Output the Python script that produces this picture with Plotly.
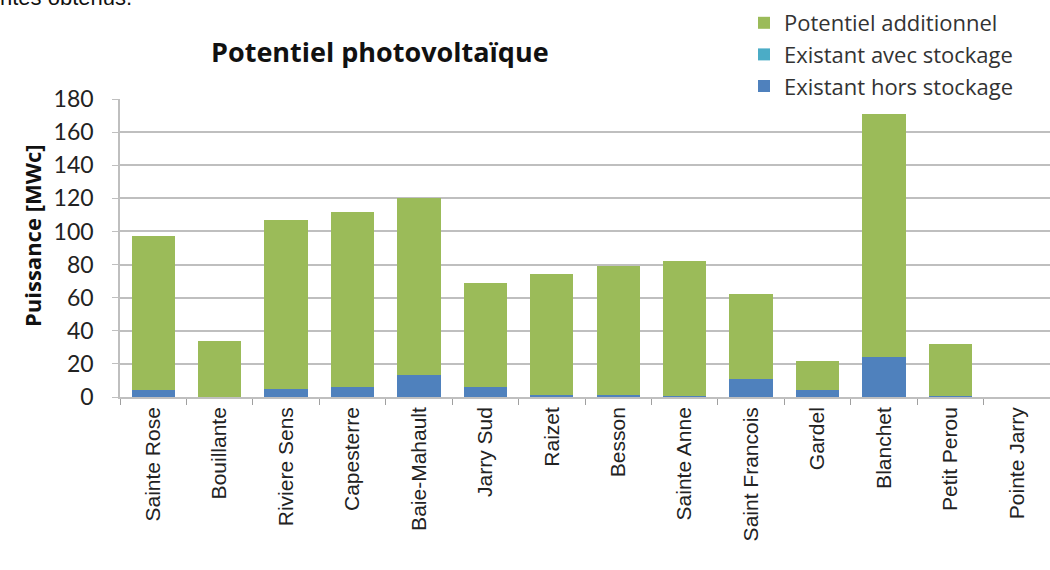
import plotly.graph_objects as go

# Postes sources et puissances photovoltaïques (MWc)
postes = ["Sainte Rose", "Bouillante", "Riviere Sens", "Capesterre", "Baie-Mahault",
          "Jarry Sud", "Raizet", "Besson", "Sainte Anne", "Saint Francois",
          "Gardel", "Blanchet", "Petit Perou", "Pointe Jarry"]
existant_hors_stockage = [4, 0, 5, 6, 13, 6, 1, 1, 0.5, 11, 4, 24, 0.5, 0]
existant_avec_stockage = [0, 0, 0, 0, 0, 0, 0, 0, 0, 0, 0, 0, 0, 0]
potentiel_additionnel = [93, 34, 102, 106, 107, 63, 73, 78, 81.5, 51, 18, 147, 31.5, 0]
y_ticks = [0, 20, 40, 60, 80, 100, 120, 140, 160, 180]

W, H = 1050, 570
ML, MR, MT, MB = 120, 0, 99, 173

fig = go.Figure()
fig.add_bar(x=postes, y=existant_hors_stockage, name="Existant hors stockage",
            marker=dict(color="#4F81BD", line_width=0))
fig.add_bar(x=postes, y=existant_avec_stockage, name="Existant avec stockage",
            marker=dict(color="#4BACC6", line_width=0))
fig.add_bar(x=postes, y=potentiel_additionnel, name="Potentiel additionnel",
            marker=dict(color="#9BBB59", line_width=0))

ph = H - MT - MB


def py(pix):
    return (H - MB - pix) / ph


def px(pix):
    return (pix - ML) / (W - ML - MR)


fig.add_annotation(text="<b>Potentiel photovoltaïque</b>", xref="paper", yref="paper",
                   x=px(380), y=py(51), showarrow=False,
                   font=dict(family="Open Sans", size=27, color="#111111"),
                   xanchor="center", yanchor="middle")
fig.add_annotation(text="<b>Puissance [MWc]</b>", xref="paper", yref="paper",
                   x=px(32), y=py(236), showarrow=False, textangle=-90,
                   font=dict(family="Open Sans", size=22, color="#111111"),
                   xanchor="center", yanchor="middle")
fig.add_annotation(text="ntes obtenus.", xref="paper", yref="paper",
                   x=px(-2), y=py(12), showarrow=False,
                   font=dict(family="Liberation Sans", size=22, color="#111111"),
                   xanchor="left", yanchor="bottom")

fig.update_layout(
    width=W, height=H,
    margin=dict(l=ML, r=MR, t=MT, b=MB, autoexpand=False),
    barmode="stack", bargap=0.35,
    plot_bgcolor="white", paper_bgcolor="white",
    font=dict(family="Liberation Sans", color="#222222"),
    legend=dict(x=px(744), y=py(2), xanchor="left", yanchor="top",
                traceorder="reversed", font=dict(family="Open Sans", size=22, color="#333333"),
                itemsizing="constant", itemwidth=30, tracegroupgap=0,
                bgcolor="rgba(0,0,0,0)"),
    showlegend=True,
)
fig.update_xaxes(
    type="category", automargin=False, showgrid=False,
    showline=True, linecolor="#BFBFBF", linewidth=1.5,
    ticks="outside", tickson="boundaries", ticklen=6, tickcolor="#A0A0A0",
    tickangle=-90, tickfont=dict(family="Liberation Sans", size=21, color="#222222"),
    range=[-0.5, 13.5],
)
fig.update_yaxes(
    range=[0, 180], tickvals=y_ticks, automargin=False,
    showgrid=True, gridcolor="#BFBFBF", gridwidth=1.5,
    showline=True, linecolor="#BFBFBF", linewidth=1.5,
    ticks="outside", ticklen=6, tickcolor="#BFBFBF", ticklabelstandoff=14,
    tickfont=dict(family="Lato", size=23, color="#222222"),
    zeroline=False,
)

fig.write_html("out.html")
